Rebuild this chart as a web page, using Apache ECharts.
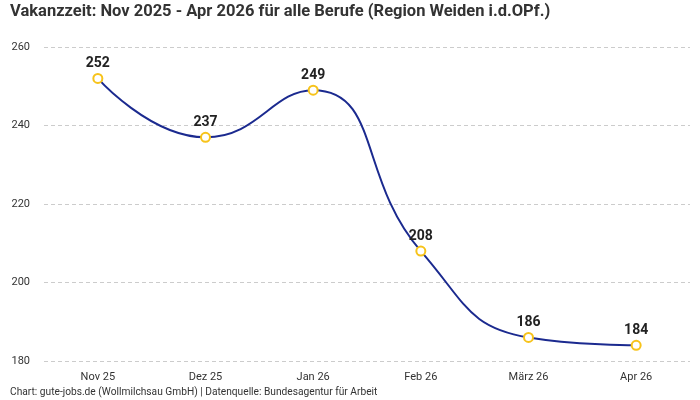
<!DOCTYPE html>
<html>
<head>
<meta charset="utf-8">
<script src="https://cdn.jsdelivr.net/npm/echarts@6/dist/echarts.min.js"></script>
<style>
  html, body { margin: 0; padding: 0; background: #fff; }
  #chart { width: 700px; height: 400px; }
</style>
</head>
<body>
<div id="chart"></div>
<script>
// Monate
const months = ["Nov 25", "Dez 25", "Jan 26", "Feb 26", "März 26", "Apr 26"];
// Vakanzzeit in Tagen
const vakanz = [252, 237, 249, 208, 186, 184];

const font = "Roboto, 'Noto Sans', sans-serif";
const myChart = echarts.init(document.getElementById("chart"));

const option = {
  animation: false,
  textStyle: { fontFamily: font },
  title: [
    {
      text: "Vakanzzeit: Nov 2025 - Apr 2026 für alle Berufe (Region Weiden i.d.OPf.)",
      left: 5,
      top: -2,
      textStyle: { fontSize: 16.5, fontWeight: "bold", color: "#333", fontFamily: font },
    },
    {
      text: "Chart: gute-jobs.de (Wollmilchsau GmbH) | Datenquelle: Bundesagentur für Arbeit",
      left: 5,
      top: 382,
      textStyle: { fontSize: 10.2, fontWeight: "normal", color: "#333", fontFamily: font },
    },
  ],
  grid: { left: 44, right: 10, top: 47, bottom: 39 },
  xAxis: {
    type: "category",
    data: months,
    axisLine: { show: false },
    axisTick: { show: false },
    axisLabel: { color: "#333", fontSize: 11, margin: 11 },
  },
  yAxis: {
    type: "value",
    min: 180,
    max: 260,
    interval: 20,
    axisLabel: { color: "#333", fontSize: 11, margin: 14 },
    splitLine: { lineStyle: { color: "#ccc", type: [4, 3] } },
  },
  series: [
    {
      type: "line",
      data: vakanz,
      smooth: true,
      symbol: "circle",
      symbolSize: 9,
      lineStyle: { color: "#1b2a8f", width: 2 },
      itemStyle: { color: "#fff", borderColor: "#f7c31a", borderWidth: 2 },
      label: {
        show: true,
        position: "top",
        distance: 2,
        color: "#222",
        fontSize: 14,
        fontWeight: "bold",
      },
    },
  ],
};

option && myChart.setOption(option);
</script>
</body>
</html>
